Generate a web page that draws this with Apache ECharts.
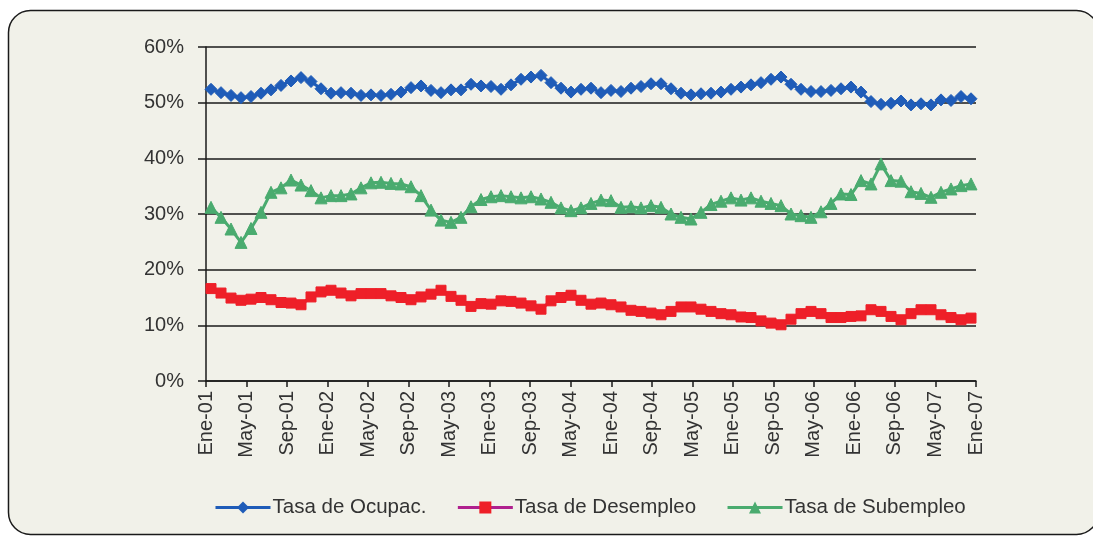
<!DOCTYPE html>
<html>
<head>
<meta charset="utf-8">
<script src="https://cdn.jsdelivr.net/npm/echarts@6/dist/echarts.min.js"></script>
<style>
html,body{margin:0;padding:0;background:#fff;}
#c{width:1093px;height:538px;}
</style>
</head>
<body>
<div id="c"></div>
<script>
// Tick labels shown under the x axis (as printed in the original chart)
const tickLabels = ['Ene-01','May-01','Sep-01','Ene-02','May-02','Sep-02','May-03','Ene-03','Sep-03','May-04',
  'Ene-04','Sep-04','May-05','Ene-05','Sep-05','May-06','Ene-06','Sep-06','May-07','Ene-07'];

// 77 monthly observations
const ocupacion = [52.4,51.8,51.3,50.9,51.1,51.7,52.3,53.1,53.9,54.5,53.8,52.5,51.7,51.8,51.7,51.3,51.4,51.3,51.5,51.9,
  52.7,53.0,52.2,51.8,52.3,52.3,53.3,53.0,52.9,52.4,53.2,54.2,54.6,54.9,53.6,52.6,51.9,52.4,52.6,51.8,
  52.2,52.0,52.6,52.9,53.4,53.4,52.5,51.7,51.4,51.6,51.7,51.9,52.4,52.8,53.2,53.6,54.2,54.6,53.3,52.4,
  52.0,52.0,52.2,52.5,52.8,51.9,50.2,49.7,49.9,50.3,49.6,49.8,49.6,50.5,50.4,51.1,50.7];

const desempleo = [16.6,15.8,14.9,14.5,14.7,15.0,14.6,14.1,14.0,13.7,15.1,16.0,16.3,15.8,15.3,15.7,15.7,15.7,15.3,15.0,
  14.6,15.1,15.6,16.3,15.2,14.5,13.4,13.9,13.8,14.4,14.3,14.0,13.5,12.9,14.4,15.0,15.4,14.5,13.8,14.0,
  13.7,13.3,12.7,12.5,12.2,11.9,12.5,13.3,13.3,12.9,12.5,12.1,11.9,11.5,11.4,10.8,10.4,10.1,11.1,12.1,
  12.5,12.1,11.4,11.4,11.6,11.7,12.8,12.5,11.6,11.0,12.1,12.8,12.8,11.9,11.4,11.0,11.3];

const subempleo = [31.2,29.4,27.3,24.9,27.4,30.3,33.9,34.7,36.1,35.2,34.2,32.9,33.3,33.3,33.6,34.7,35.6,35.7,35.5,35.4,
  34.9,33.3,30.7,28.9,28.5,29.4,31.3,32.6,33.1,33.3,33.1,32.9,33.1,32.7,32.1,31.1,30.6,31.1,31.9,32.5,
  32.4,31.2,31.3,31.1,31.5,31.2,30.0,29.4,29.1,30.3,31.7,32.3,32.9,32.5,32.9,32.3,31.9,31.5,30.0,29.7,
  29.4,30.4,31.9,33.6,33.5,36.0,35.4,39.0,36.0,35.9,34.0,33.7,33.0,33.9,34.5,35.1,35.4];

const yTicks = [0,10,20,30,40,50,60];

const categories = ocupacion.map((_, i) => 'm' + i);
const FONT = '"Liberation Sans", Arial, Helvetica, sans-serif';

const chart = echarts.init(document.getElementById('c'), null, {renderer:'canvas'});
chart.setOption({
  backgroundColor: '#ffffff',
  animation: false,
  textStyle: {fontFamily: FONT},
  graphic: [{
    type: 'rect', z: -100, silent: true,
    shape: {x: 8.5, y: 10.5, width: 1090, height: 524, r: 22},
    style: {fill: '#f1f1e9', stroke: '#1a1a1a', lineWidth: 1.5}
  }],
  grid: {left: 206, right: 117, top: 47, bottom: 157, containLabel: false},
  xAxis: [{
    type: 'category', data: categories, boundaryGap: true, show: false
  }, {
    type: 'value', position: 'bottom', min: 0, max: tickLabels.length - 1, interval: 1,
    axisLine: {show: true, onZero: false, lineStyle: {color: '#1a1a1a', width: 1.5}},
    axisTick: {show: true, length: 6, lineStyle: {color: '#1a1a1a', width: 1.5}},
    splitLine: {show: false},
    axisLabel: {
      rotate: 90, margin: 10, fontSize: 20, color: '#333', fontFamily: FONT,
      formatter: v => tickLabels[Math.round(v)] || ''
    }
  }],
  yAxis: {
    type: 'value', min: yTicks[0], max: yTicks[yTicks.length - 1], interval: 10,
    axisLine: {show: true, lineStyle: {color: '#1a1a1a', width: 1.5}},
    axisTick: {show: true, length: 8, lineStyle: {color: '#1a1a1a', width: 1.5}},
    splitLine: {show: true, lineStyle: {color: '#1a1a1a', width: 1.5}},
    axisLabel: {margin: 22, fontSize: 20, color: '#333', fontFamily: FONT, formatter: '{value}%'}
  },
  legend: {
    left: 209, top: 492, itemWidth: 55, itemHeight: 15, itemGap: 30,
    lineStyle: {width: 3},
    textStyle: {fontSize: 20.5, color: '#333', fontFamily: FONT, padding: [0, 0, 0, -3]},
    data: ['Tasa de Ocupac.', 'Tasa de Desempleo', 'Tasa de Subempleo']
  },
  series: [{
    name: 'Tasa de Ocupac.', type: 'line', xAxisIndex: 0, data: ocupacion,
    symbol: 'diamond', symbolSize: 12, showAllSymbol: true,
    lineStyle: {color: '#1f5cb8', width: 3},
    itemStyle: {color: '#1f5cb8', borderColor: '#1f5cb8'}
  }, {
    name: 'Tasa de Desempleo', type: 'line', xAxisIndex: 0, data: desempleo,
    symbol: 'rect', symbolSize: 10, showAllSymbol: true,
    lineStyle: {color: '#b0208e', width: 3},
    itemStyle: {color: '#ee1f28', borderColor: '#ee1f28'}
  }, {
    name: 'Tasa de Subempleo', type: 'line', xAxisIndex: 0, data: subempleo,
    symbol: 'triangle', symbolSize: 12, showAllSymbol: true,
    lineStyle: {color: '#4aab6f', width: 3},
    itemStyle: {color: '#4aab6f', borderColor: '#4aab6f'}
  }]
});
</script>
</body>
</html>
